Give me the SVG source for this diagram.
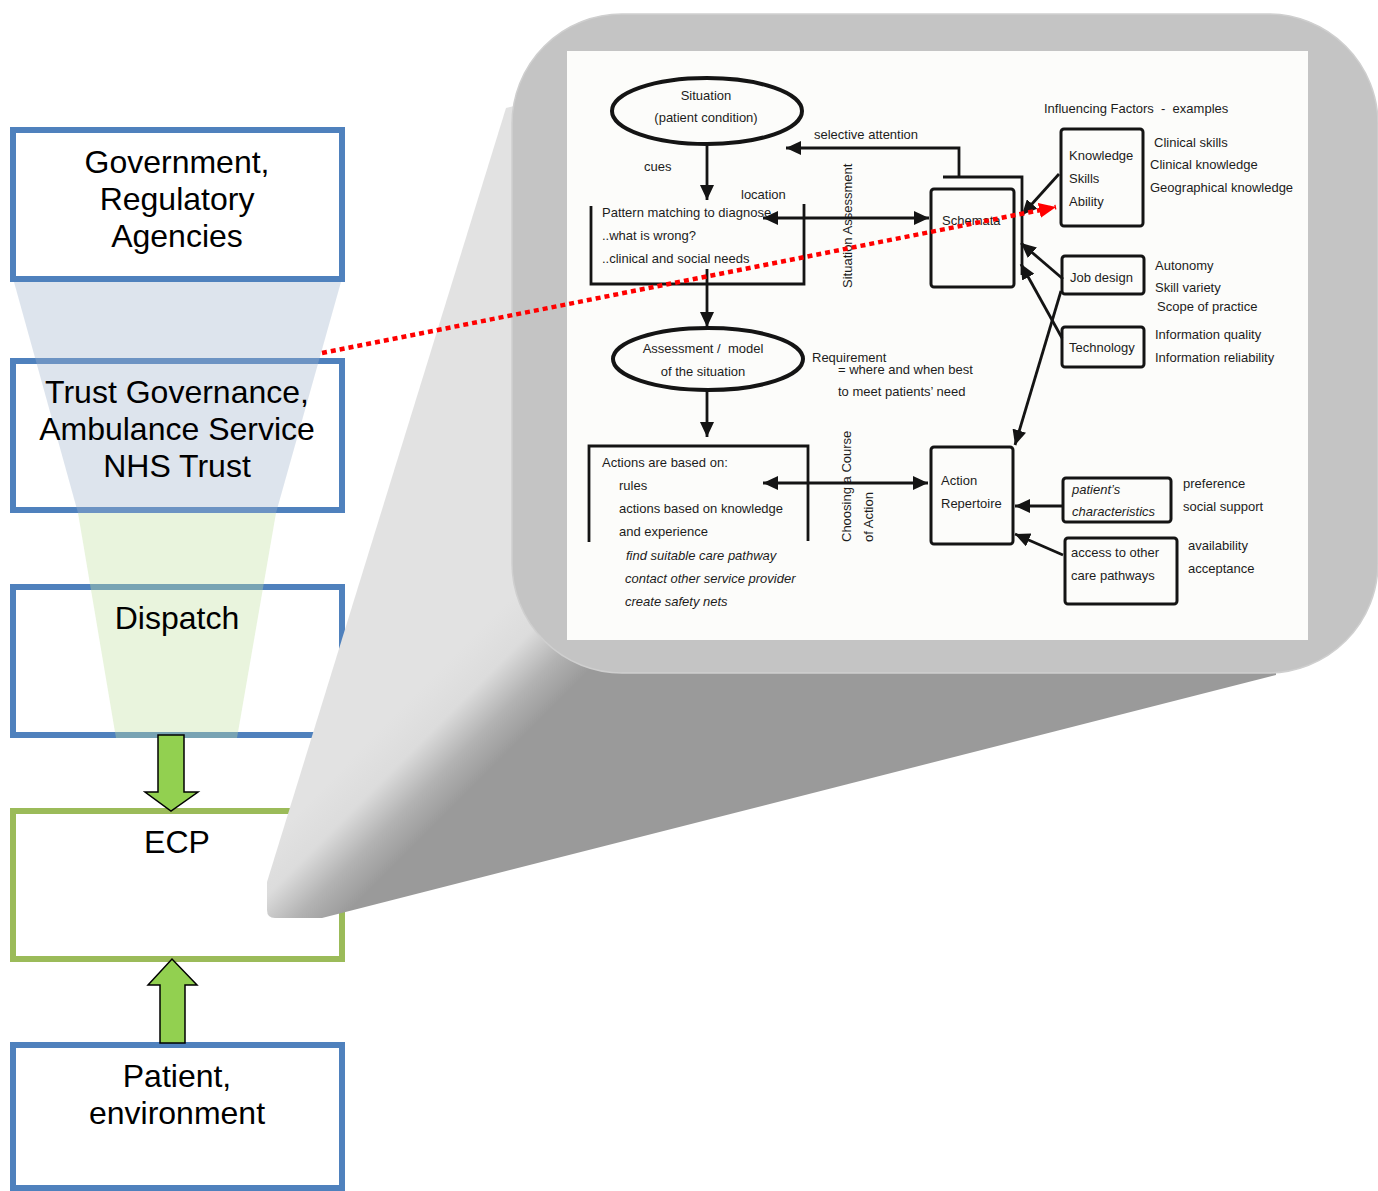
<svg xmlns="http://www.w3.org/2000/svg" width="1378" height="1191" viewBox="0 0 1378 1191">
  <defs>
    <style>
      .big { font-family: "Liberation Sans", Arial, sans-serif; font-size: 32px; fill: #000; text-anchor: middle; }
      .bluebox { fill: #fff; stroke: #4f81bd; stroke-width: 6; }
      .greenbox { fill: #fff; stroke: #9bbb59; stroke-width: 6; }
      .fblue { fill: #a0b4cd; fill-opacity: 0.36; }
      .fgreen { fill: #c3e0a0; fill-opacity: 0.36; }
      .blockarrow { fill: #92d050; stroke: #000; stroke-width: 1.5; stroke-linejoin: miter; }
      .t { font-family: "Liberation Sans", Arial, sans-serif; font-size: 13px; fill: #1c1c1c; }
      .it { font-style: italic; }
      .ln { fill: none; stroke: #141414; stroke-width: 2.8; }
      .box { fill: none; stroke: #141414; stroke-width: 3; }
      .ell { fill: none; stroke: #141414; stroke-width: 4; }
    </style>
    <marker id="ah" markerUnits="userSpaceOnUse" markerWidth="15" markerHeight="14" refX="15" refY="7" orient="auto-start-reverse">
      <path d="M0,0 L15,7 L0,14 z" fill="#141414"/>
    </marker>
    <marker id="redah" markerUnits="userSpaceOnUse" markerWidth="17" markerHeight="15" refX="17" refY="7.5" orient="auto">
      <path d="M0,0 L17,7.5 L0,15 z" fill="#ff0000"/>
    </marker>
    <linearGradient id="tailShade" gradientUnits="userSpaceOnUse" x1="395" y1="715" x2="470" y2="790">
      <stop offset="0" stop-color="#e2e2e2"/>
      <stop offset="0.35" stop-color="#dcdcdc"/>
      <stop offset="0.7" stop-color="#b2b2b2"/>
      <stop offset="1" stop-color="#9a9a9a"/>
    </linearGradient>
  </defs>

  <rect width="1378" height="1191" fill="#fff"/>

  <!-- left column of organisational levels; the funnel tint sits between frame and label -->
  <g id="government">
    <rect class="bluebox" x="13" y="130" width="329" height="149"/>
    <text class="big" x="177" y="173">Government,</text>
    <text class="big" x="177" y="210">Regulatory</text>
    <text class="big" x="177" y="247">Agencies</text>
  </g>
  <g id="funnel">
    <polygon class="fblue" points="14,282 341,282 319.6,358 35.1,358"/>
    <polygon class="fgreen" points="78,513 276,513 263.7,584 90,584"/>
  </g>
  <g id="trust">
    <rect class="bluebox" x="13" y="361" width="329" height="149"/>
    <polygon class="fblue" points="35.1,358 319.6,358 276,513 78,513"/>
    <text class="big" x="177" y="403">Trust Governance,</text>
    <text class="big" x="177" y="440">Ambulance Service</text>
    <text class="big" x="177" y="477">NHS Trust</text>
  </g>
  <g id="dispatch">
    <rect class="bluebox" x="13" y="587" width="329" height="148"/>
    <polygon class="fgreen" points="90,584 263.7,584 237,738 116,738"/>
    <text class="big" x="177" y="629">Dispatch</text>
  </g>
  <g id="ecp">
    <rect class="greenbox" x="13" y="811" width="329" height="148"/>
    <text class="big" x="177" y="853">ECP</text>
  </g>
  <g id="patient">
    <rect class="bluebox" x="13" y="1045" width="329" height="143"/>
    <text class="big" x="177" y="1087">Patient,</text>
    <text class="big" x="177" y="1124">environment</text>
  </g>

  <g id="connectors">
    <polygon class="blockarrow" points="158,735 184,735 184,792 198,792 171,811 145,792 158,792"/>
    <polygon class="blockarrow" points="160,1043 185,1043 185,985 197,985 172,959 148,985 160,985"/>
  </g>

  <!-- callout bubble with its tail pointing at the ECP -->
  <g id="callout">
    <path d="M506,108 L267,882 L267,910 Q267,918 275,918 L322,918 L1276,675 L1276,300 L700,60 Z" fill="url(#tailShade)"/>
    <rect x="512" y="14" width="866" height="659" rx="110" ry="110" fill="#c4c4c4" stroke="#cfcfcf" stroke-width="1.5"/>
    <rect x="567" y="51" width="741" height="589" fill="#fcfcfa"/>
  </g>

  <!-- decision model shown inside the callout -->
  <g id="situation">
    <ellipse class="ell" cx="707" cy="111" rx="95" ry="33"/>
    <text class="t" x="706" y="100" text-anchor="middle">Situation</text>
    <text class="t" x="706" y="122" text-anchor="middle">(patient condition)</text>
  </g>
  <g id="pattern-matching">
    <path class="ln" d="M591,206 L591,284 L804,284 L804,204"/>
    <text class="t" x="602" y="217">Pattern matching to diagnose</text>
    <text class="t" x="602" y="240">..what is wrong?</text>
    <text class="t" x="602" y="263">..clinical and social needs</text>
  </g>
  <g id="assessment">
    <ellipse class="ell" cx="708" cy="359" rx="95" ry="31"/>
    <text class="t" x="703" y="353" text-anchor="middle" xml:space="preserve">Assessment /  model</text>
    <text class="t" x="703" y="376" text-anchor="middle">of the situation</text>
  </g>
  <g id="actions">
    <path class="ln" d="M589,542 L589,446 L808,446 L808,541"/>
    <text class="t" x="602" y="467">Actions are based on:</text>
    <text class="t" x="619" y="490">rules</text>
    <text class="t" x="619" y="513">actions based on knowledge</text>
    <text class="t" x="619" y="536">and experience</text>
    <text class="t it" x="626" y="560">find suitable care pathway</text>
    <text class="t it" x="625" y="583">contact other service provider</text>
    <text class="t it" x="625" y="606">create safety nets</text>
  </g>
  <g id="schemata">
    <rect class="box" x="931" y="189" width="83" height="98" rx="3"/>
    <text class="t" x="942" y="225">Schemata</text>
  </g>
  <g id="action-repertoire">
    <rect class="box" x="931" y="447" width="82" height="97" rx="3"/>
    <text class="t" x="941" y="485">Action</text>
    <text class="t" x="941" y="508">Repertoire</text>
  </g>
  <g id="knowledge">
    <rect class="box" x="1061" y="129" width="82" height="97" rx="3"/>
    <text class="t" x="1069" y="160">Knowledge</text>
    <text class="t" x="1069" y="183">Skills</text>
    <text class="t" x="1069" y="206">Ability</text>
  </g>
  <g id="job-design">
    <rect class="box" x="1062" y="256" width="82" height="38" rx="3"/>
    <text class="t" x="1070" y="282">Job design</text>
  </g>
  <g id="technology">
    <rect class="box" x="1062" y="327" width="82" height="40" rx="3"/>
    <text class="t" x="1069" y="352">Technology</text>
  </g>
  <g id="patient-characteristics">
    <rect class="box" x="1063" y="478" width="108" height="44" rx="3"/>
    <text class="t it" x="1072" y="494">patient’s</text>
    <text class="t it" x="1072" y="516">characteristics</text>
  </g>
  <g id="care-pathways">
    <rect class="box" x="1065" y="538" width="112" height="66" rx="3"/>
    <text class="t" x="1071" y="557">access to other</text>
    <text class="t" x="1071" y="580">care pathways</text>
  </g>

  <g id="model-labels">
    <text class="t" x="644" y="171">cues</text>
    <text class="t" x="741" y="199">location</text>
    <text class="t" x="814" y="139">selective attention</text>
    <text class="t" x="1044" y="113" xml:space="preserve">Influencing Factors  -  examples</text>
    <text class="t" x="1154" y="147">Clinical skills</text>
    <text class="t" x="1150" y="169">Clinical knowledge</text>
    <text class="t" x="1150" y="192">Geographical knowledge</text>
    <text class="t" x="1155" y="270">Autonomy</text>
    <text class="t" x="1155" y="292">Skill variety</text>
    <text class="t" x="1157" y="311">Scope of practice</text>
    <text class="t" x="1155" y="339">Information quality</text>
    <text class="t" x="1155" y="362">Information reliability</text>
    <text class="t" x="1183" y="488">preference</text>
    <text class="t" x="1183" y="511">social support</text>
    <text class="t" x="1188" y="550">availability</text>
    <text class="t" x="1188" y="573">acceptance</text>
    <text class="t" x="812" y="362">Requirement</text>
    <text class="t" x="838" y="374">= where and when best</text>
    <text class="t" x="838" y="396">to meet patients’ need</text>
    <text class="t" transform="translate(852,288) rotate(-90)">Situation Assessment</text>
    <text class="t" transform="translate(851,542) rotate(-90)">Choosing a Course</text>
    <text class="t" transform="translate(873,542) rotate(-90)">of Action</text>
  </g>

  <g id="model-connectors">
    <line class="ln" x1="707" y1="146" x2="707" y2="200" marker-end="url(#ah)"/>
    <line class="ln" x1="763" y1="218" x2="929" y2="218" marker-start="url(#ah)" marker-end="url(#ah)"/>
    <path class="ln" d="M959,177 L959,148 L786,148" marker-end="url(#ah)"/>
    <path class="ln" d="M943,177 L1022,177 L1022,275"/>
    <line class="ln" x1="707" y1="269" x2="707" y2="327" marker-end="url(#ah)"/>
    <line class="ln" x1="707" y1="391" x2="707" y2="437" marker-end="url(#ah)"/>
    <line class="ln" x1="763" y1="483" x2="928" y2="483" marker-start="url(#ah)" marker-end="url(#ah)"/>
    <line class="ln" x1="1059" y1="174" x2="1022" y2="215" marker-end="url(#ah)"/>
    <line class="ln" x1="1063" y1="279" x2="1021" y2="243" marker-end="url(#ah)"/>
    <line class="ln" x1="1062" y1="338" x2="1021" y2="264" marker-end="url(#ah)"/>
    <line class="ln" x1="1061" y1="291" x2="1015" y2="445" marker-end="url(#ah)"/>
    <line class="ln" x1="1063" y1="506" x2="1015" y2="506" marker-end="url(#ah)"/>
    <line class="ln" x1="1063" y1="555" x2="1015" y2="534" marker-end="url(#ah)"/>
  </g>

  <!-- dotted link from the trust level to the influencing factors -->
  <g id="trust-link">
    <line x1="322" y1="353" x2="1056" y2="207" stroke="#ff0000" stroke-width="4.5" stroke-dasharray="5 4" marker-end="url(#redah)"/>
  </g>
</svg>
